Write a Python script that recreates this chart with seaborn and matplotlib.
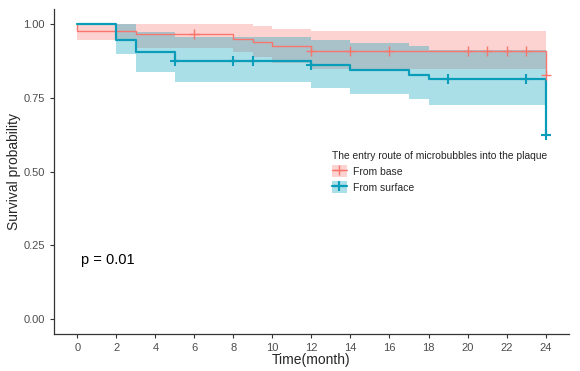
import numpy as np
import pandas as pd
import matplotlib
matplotlib.use("Agg")
import matplotlib.pyplot as plt
import seaborn as sns
from matplotlib.patches import Patch
from matplotlib.lines import Line2D

# Kaplan-Meier step data
base_time = [0, 0, 3, 8, 9, 10, 12, 24]
base_surv = [1.0, 0.978, 0.965, 0.951, 0.938, 0.925, 0.910, 0.828]
base_band_time = [0, 3, 8, 9, 10, 12, 24]
base_upper = [1.0, 1.0, 1.0, 0.994, 0.985, 0.978, 0.978]
base_lower = [0.945, 0.920, 0.905, 0.890, 0.870, 0.848, 0.848]
base_cens_time = [6, 12, 14, 16, 20, 21, 22, 23, 24]
base_cens_surv = [0.965, 0.910, 0.910, 0.910, 0.910, 0.910, 0.910, 0.910, 0.828]

surf_time = [0, 2, 3, 5, 12, 14, 17, 18, 24]
surf_surv = [1.0, 0.946, 0.905, 0.876, 0.860, 0.845, 0.829, 0.813, 0.624]
surf_band_time = [0, 2, 3, 5, 12, 14, 17, 18, 24]
surf_upper = [1.0, 1.0, 0.972, 0.956, 0.946, 0.936, 0.926, 0.912, 0.912]
surf_lower = [1.0, 0.898, 0.838, 0.804, 0.784, 0.764, 0.746, 0.726, 0.726]
surf_cens_time = [5, 8, 9, 12, 19, 23, 24]
surf_cens_surv = [0.876, 0.876, 0.876, 0.860, 0.813, 0.813, 0.624]

red = "#F8766D"
blue = "#0A9DBA"
blue_fill = "#009FB8"

sns.set_theme(style="ticks")
plt.rcParams["font.family"] = ["Liberation Sans", "DejaVu Sans"]

fig = plt.figure(figsize=(5.8, 3.71), dpi=100)
ax = fig.add_axes([0.093, 0.0997, 0.888, 0.875])

# confidence bands
ax.fill_between(base_band_time, base_lower, base_upper, step="post",
                color=red, alpha=0.32, linewidth=0)
ax.fill_between(surf_band_time, surf_lower, surf_upper, step="post",
                color=blue_fill, alpha=0.33, linewidth=0)

base_df = pd.DataFrame({"time": base_time, "surv": base_surv})
surf_df = pd.DataFrame({"time": surf_time, "surv": surf_surv})
sns.lineplot(data=base_df, x="time", y="surv", estimator=None, sort=False,
             drawstyle="steps-post", color=red, linewidth=1.0, ax=ax)
sns.lineplot(data=surf_df, x="time", y="surv", estimator=None, sort=False,
             drawstyle="steps-post", color=blue, linewidth=1.6, ax=ax)

# censor marks
ax.plot(base_cens_time, base_cens_surv, "+", color=red, ms=7, mew=1.0)
ax.plot(surf_cens_time, surf_cens_surv, "+", color=blue, ms=7, mew=1.5)

ax.set_xlim(-1.2, 25.2)
ax.set_ylim(-0.05, 1.05)
ax.set_xticks(np.arange(0, 25, 2))
ax.set_yticks([0, 0.25, 0.5, 0.75, 1.0])
ax.set_yticklabels(["0.00", "0.25", "0.50", "0.75", "1.00"])
ax.tick_params(labelsize=8, colors="#4D4D4D", length=3, width=0.8)
ax.tick_params(axis="both", labelcolor="#4D4D4D", color="#333333")
for s in ["left", "bottom"]:
    ax.spines[s].set_color("#333333")
    ax.spines[s].set_linewidth(0.9)
sns.despine(ax=ax)

ax.set_xlabel("Time(month)", fontsize=10, labelpad=0)
ax.set_ylabel("Survival probability", fontsize=10, labelpad=2)

ax.text(0.2, 0.2, "p = 0.01", fontsize=10.5, ha="left", va="center", color="black")

handles = [
    (Patch(facecolor=red, alpha=0.32, linewidth=0),
     Line2D([], [], color=red, marker="+", ms=7, lw=1.0)),
    (Patch(facecolor=blue_fill, alpha=0.33, linewidth=0),
     Line2D([], [], color=blue, marker="+", ms=7, lw=1.6, mew=1.5)),
]
leg = ax.legend(handles, ["From base", "From surface"],
                title="The entry route of microbubbles into the plaque",
                loc="upper left", bbox_to_anchor=(0.54, 0.563), frameon=False,
                fontsize=7.5, title_fontsize=7.4, handlelength=1.4, handleheight=1.35,
                handletextpad=0.6, labelspacing=0.4, alignment="left",
                borderpad=0, borderaxespad=0)

fig.savefig("out.png", dpi=100)
